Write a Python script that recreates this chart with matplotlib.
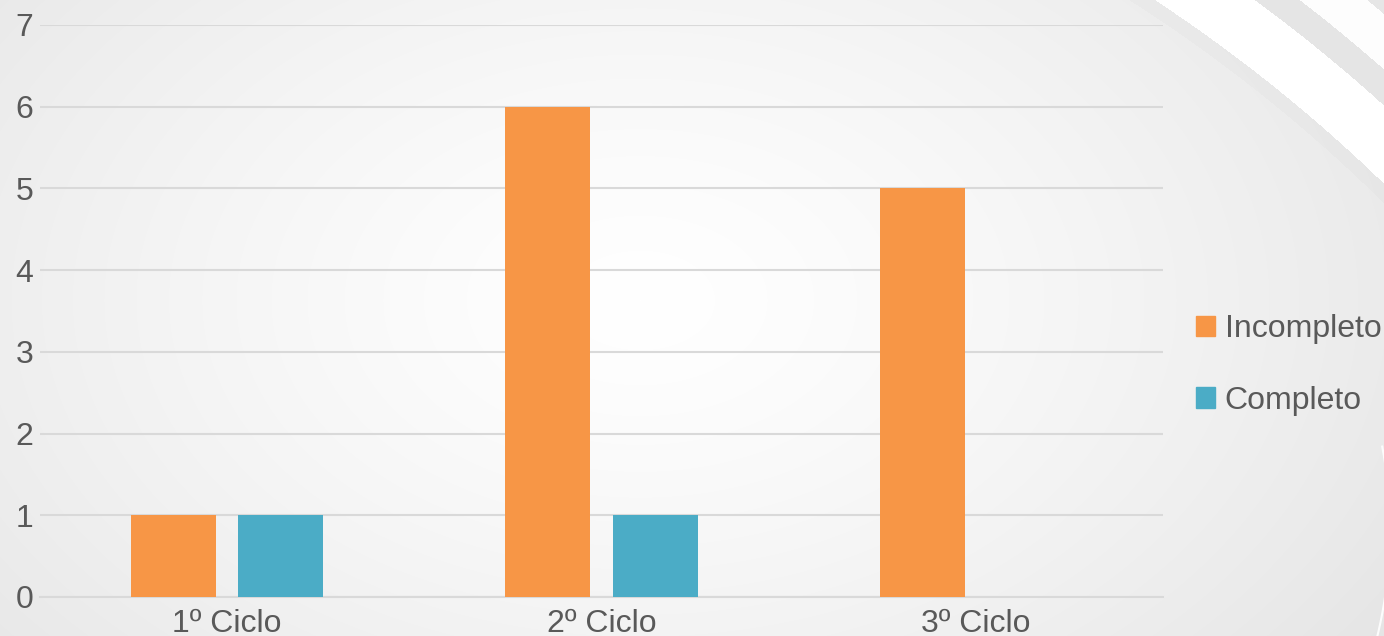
import numpy as np
import matplotlib.pyplot as plt
from matplotlib.patches import Patch

# ---------------------------------------------------------------------------
# Data
# ---------------------------------------------------------------------------
categories = ['1º Ciclo', '2º Ciclo', '3º Ciclo']
incompleto = [1, 6, 5]
completo   = [1, 1, 0]
y_ticks    = [0, 1, 2, 3, 4, 5, 6, 7]

ORANGE = '#F79646'
TEAL   = '#4BACC6'
TEXT   = '#595959'
GRID   = '#D9D9D9'

plt.rcParams['font.family'] = ['Liberation Sans', 'DejaVu Sans']

fig = plt.figure(figsize=(13.84, 6.36), dpi=100)

# Light radial-gradient slide background with swooshes in the top-right
bg = fig.add_axes([0, 0, 1, 1], zorder=-10)
yy, xx = np.mgrid[0:636, 0:1384]
r = np.sqrt(((xx - 640) / 900.0) ** 2 + ((yy - 300) / 600.0) ** 2)
shade = 1.0 - 0.10 * np.clip(r, 0, 1) ** 1.3
d = np.sqrt((xx - 300.0) ** 2 + (yy - 1300.0) ** 2)
shade = np.where((d > 1542) & (d < 1556), shade - 0.015, shade)
shade = np.where((d >= 1556) & (d < 1613), 1.0, shade)
shade = np.where((d >= 1613) & (d < 1640), 0.9, shade)
shade = np.where((d >= 1640) & (d < 1682), 0.995, shade)
shade = np.where(d >= 1682, 0.905, shade)
bg.imshow(np.dstack([shade] * 3), extent=[0, 1384, 636, 0], aspect='auto')
t = np.linspace(-0.35, 0.2, 100)
bg.plot(1000 + 390 * np.cos(t), 530 - 420 * np.sin(t), color='white', lw=1.5, alpha=0.9)
bg.set_xlim(0, 1384)
bg.set_ylim(636, 0)
bg.axis('off')

ax = fig.add_axes([40 / 1384, 1 - 597 / 636, (1163 - 40) / 1384, (597 - 25) / 636])
ax.patch.set_alpha(0)

x = np.arange(len(categories))
width = 0.227
offset = 0.143
ax.bar(x - offset, incompleto, width, color=ORANGE, label='Incompleto', zorder=3)
ax.bar(x + offset, completo, width, color=TEAL, label='Completo', zorder=3)

ax.set_xlim(-0.5, 2.5)
ax.set_ylim(0, 7)
ax.set_yticks(y_ticks)
ax.set_xticks(x)
ax.set_xticklabels(categories)
ax.yaxis.grid(True, color=GRID, lw=1.5, zorder=0)
for side in ['top', 'right', 'left']:
    ax.spines[side].set_visible(False)
ax.spines['bottom'].set_color(GRID)
ax.spines['bottom'].set_linewidth(1.5)
ax.tick_params(axis='both', length=0, labelsize=23, colors=TEXT)
ax.tick_params(axis='y', pad=5)
ax.tick_params(axis='x', pad=9)

handles = [Patch(color=ORANGE, label='Incompleto'),
           Patch(color=TEAL, label='Completo')]
fig.legend(handles=handles, loc='center left', bbox_to_anchor=(1196 / 1384, 1 - 365 / 636),
           frameon=False, fontsize=23, labelcolor=TEXT, handlelength=0.6,
           handleheight=0.6, handletextpad=0.3, labelspacing=1.3,
           borderpad=0, borderaxespad=0)

fig.savefig('out.png', dpi=100)
